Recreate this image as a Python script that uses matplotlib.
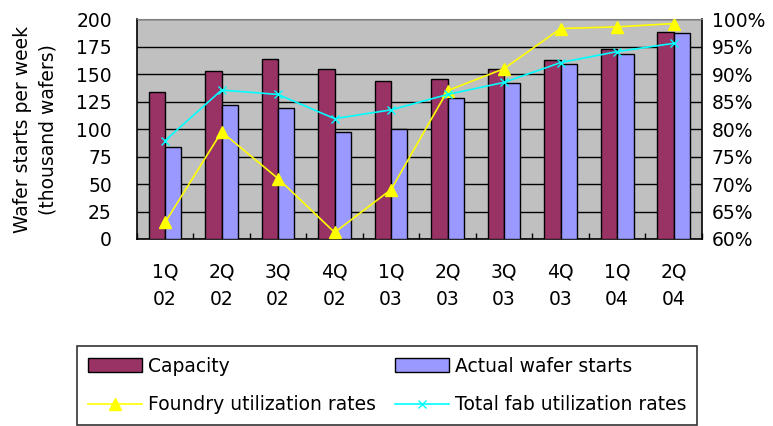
import matplotlib.pyplot as plt
import numpy as np
from matplotlib.ticker import FixedLocator, PercentFormatter

plt.rcParams['font.family'] = ['DejaVu Sans']
FS = 13.5

# data
quarters = ['1Q\n02', '2Q\n02', '3Q\n02', '4Q\n02', '1Q\n03',
            '2Q\n03', '3Q\n03', '4Q\n03', '1Q\n04', '2Q\n04']
capacity = [134, 153, 164, 155, 144, 146, 155, 163, 173, 188]
actual_starts = [84, 122, 119, 97, 100, 128, 142, 159, 168, 187]
foundry_util = [63.0, 79.5, 71.0, 61.2, 69.0, 87.0, 91.0, 98.3, 98.6, 99.2]
total_util = [77.9, 87.1, 86.3, 81.9, 83.5, 86.3, 88.5, 92.1, 94.1, 95.6]

fig = plt.figure(figsize=(7.73, 4.26), dpi=100)
ax = fig.add_axes([0.177, 0.439, 0.731, 0.516])
ax.set_facecolor('#C0C0C0')

x = np.arange(len(quarters))
w = 0.29
b1 = ax.bar(x - w / 2, capacity, w, color='#993366', edgecolor='black',
            linewidth=1, label='Capacity', zorder=3)
b2 = ax.bar(x + w / 2, actual_starts, w, color='#9999FF', edgecolor='black',
            linewidth=1, label='Actual wafer starts', zorder=3)

ax.set_xlim(-0.5, len(quarters) - 0.5)
ax.set_ylim(0, 200)
ax.set_yticks(np.arange(0, 201, 25))
ax.yaxis.grid(True, color='black', linewidth=1, zorder=1)
ax.set_axisbelow(True)
ax.set_xticks(x)
ax.set_xticklabels(quarters, linespacing=1.55)
ax.xaxis.set_minor_locator(FixedLocator(np.arange(-0.5, len(quarters), 1)))
ax.tick_params(axis='x', which='major', length=0, pad=17, labelsize=FS)
ax.tick_params(axis='x', which='minor', direction='in', length=4, width=1)
ax.tick_params(axis='y', length=0, pad=18, labelsize=FS)
for s in ['left', 'bottom', 'right']:
    ax.spines[s].set_color('black')
    ax.spines[s].set_linewidth(1.2)
ax.spines['top'].set_color('#808080')

ax2 = ax.twinx()
l1, = ax2.plot(x, foundry_util, color='#FFFF00', linewidth=1.2, marker='^',
               markersize=9, label='Foundry utilization rates', zorder=4)
l2, = ax2.plot(x, total_util, color='#00FFFF', linewidth=1.2, marker='x',
               markersize=6, label='Total fab utilization rates', zorder=4)
ax2.set_ylim(60, 100)
ax2.set_yticks(np.arange(60, 101, 5))
ax2.yaxis.set_major_formatter(PercentFormatter(decimals=0))
ax2.tick_params(axis='y', length=0, pad=7, labelsize=FS)
for s in ax2.spines.values():
    s.set_visible(False)

fig.text(0.046, 0.695, 'Wafer starts per week\n(thousand wafers)', rotation=90,
         ha='center', va='center', multialignment='center', fontsize=FS,
         linespacing=1.45)

leg = fig.legend([b1, l1, b2, l2],
                 ['Capacity', 'Foundry utilization rates',
                  'Actual wafer starts', 'Total fab utilization rates'],
                 ncol=2, loc='lower left',
                 bbox_to_anchor=(0.1, 0.003),
                 fancybox=False, edgecolor='black', fontsize=FS,
                 handlelength=2.9, handleheight=0.75, handletextpad=0.32,
                 borderaxespad=0, labelspacing=1.05, borderpad=0.55,
                 columnspacing=1.0)
leg.get_frame().set_linewidth(1.2)

plt.savefig('out.png', dpi=100)
plt.close()
